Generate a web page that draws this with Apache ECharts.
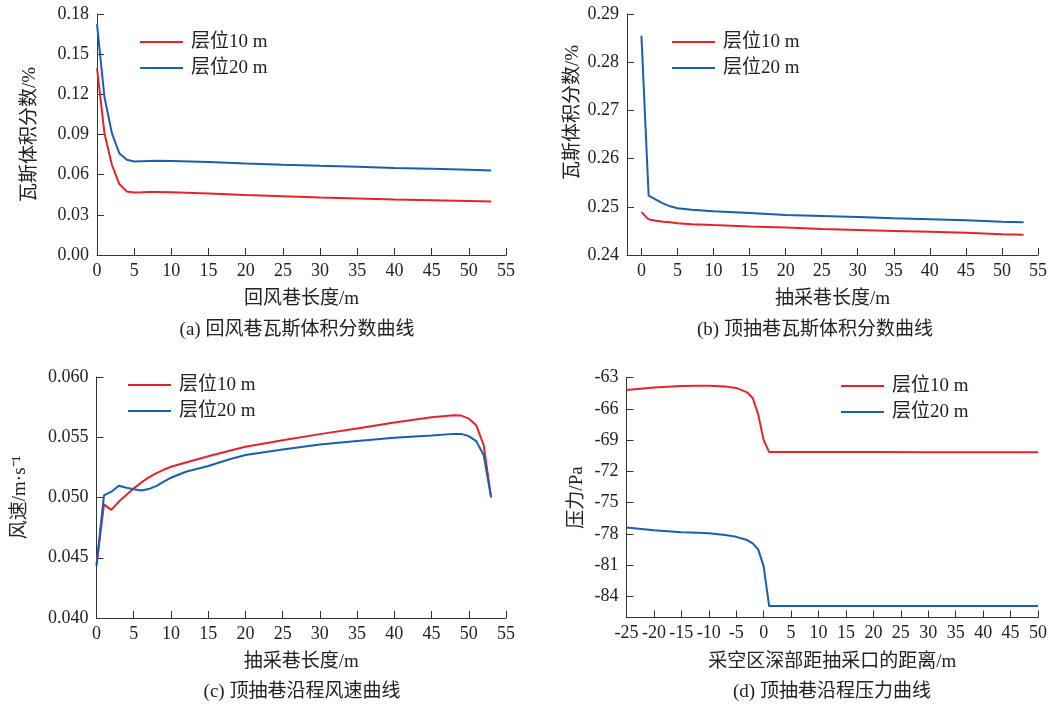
<!DOCTYPE html>
<html>
<head>
<meta charset="utf-8">
<script src="https://cdn.jsdelivr.net/npm/echarts@6/dist/echarts.min.js"></script>
<style>
html,body{margin:0;padding:0;background:#fff;}
#main{width:1057px;height:706px;}
</style>
</head>
<body>
<div id="main"></div>
<script>
// ---------- DATA ----------
const seriesNames = ['层位10 m', '层位20 m'];

// (a) 回风巷瓦斯体积分数
const aX    = [0, 1, 2, 3, 4, 5, 6, 7, 8, 10, 15, 20, 25, 30, 35, 40, 45, 50, 53];
const aRed  = [0.1395, 0.091, 0.0674, 0.053, 0.0475, 0.0467, 0.0468, 0.0470, 0.0471, 0.0469, 0.0460, 0.0448, 0.0438, 0.0429, 0.0422, 0.0415, 0.0409, 0.0403, 0.0400];
const aBlue = [0.1725, 0.118, 0.091, 0.076, 0.0711, 0.0699, 0.0701, 0.0703, 0.0704, 0.0702, 0.0694, 0.0683, 0.0674, 0.0666, 0.0659, 0.0650, 0.0644, 0.0637, 0.0632];

// (b) 顶抽巷瓦斯体积分数
const bX    = [0, 1, 2, 3, 4, 5, 7, 10, 15, 20, 25, 30, 35, 40, 45, 50, 53];
const bRed  = [0.2489, 0.2474, 0.2471, 0.2469, 0.2468, 0.2466, 0.2464, 0.2462, 0.2459, 0.2457, 0.2454, 0.2452, 0.2450, 0.2448, 0.2446, 0.2443, 0.2442];
const bBlue = [0.2855, 0.2523, 0.2515, 0.2507, 0.2501, 0.2497, 0.2494, 0.2491, 0.2487, 0.2483, 0.2481, 0.2479, 0.2476, 0.2474, 0.2472, 0.2469, 0.2468];

// (c) 顶抽巷沿程风速
const cX    = [0, 1, 2, 3, 4, 5, 6, 7, 8, 9, 10, 12, 15, 18, 20, 25, 30, 35, 40, 45, 48, 49, 50, 51, 52, 53];
const cRed  = [0.04436, 0.04943, 0.04897, 0.04966, 0.05021, 0.05076, 0.05123, 0.05167, 0.05200, 0.05230, 0.05255, 0.05291, 0.05343, 0.05390, 0.05421, 0.05476, 0.05526, 0.05572, 0.05622, 0.05666, 0.05683, 0.05680, 0.05655, 0.05600, 0.05434, 0.05001];
const cBlue = [0.04436, 0.05018, 0.05048, 0.05098, 0.05081, 0.05068, 0.05059, 0.05070, 0.05095, 0.05130, 0.05164, 0.05214, 0.05261, 0.05320, 0.05352, 0.05399, 0.05440, 0.05468, 0.05495, 0.05515, 0.05528, 0.05528, 0.05509, 0.05468, 0.05352, 0.05001];

// (d) 顶抽巷沿程压力
const dX    = [-25, -20, -15, -12, -10, -7, -5, -3, -2, -1, 0, 1, 5, 10, 20, 30, 40, 50];
const dRed  = [-64.2, -63.95, -63.82, -63.79, -63.8, -63.87, -64.0, -64.43, -64.96, -66.55, -69.0, -70.15, -70.15, -70.15, -70.15, -70.16, -70.16, -70.17];
const dBlue = [-77.38, -77.63, -77.82, -77.88, -77.92, -78.1, -78.27, -78.58, -78.9, -79.47, -81.1, -84.9, -84.9, -84.9, -84.9, -84.9, -84.9, -84.9];

// tick labels
const xTicks055 = [0, 5, 10, 15, 20, 25, 30, 35, 40, 45, 50, 55];
const dYTicks   = [-84, -81, -78, -75, -72, -69, -66, -63];

// titles
const captions = ['(a) 回风巷瓦斯体积分数曲线', '(b) 顶抽巷瓦斯体积分数曲线', '(c) 顶抽巷沿程风速曲线', '(d) 顶抽巷沿程压力曲线'];
const xNames = ['回风巷长度/m', '抽采巷长度/m', '抽采巷长度/m', '采空区深部距抽采口的距离/m'];
const yNames = ['瓦斯体积分数/%', '瓦斯体积分数/%', '风速/m·s⁻¹', '压力/Pa'];

// ---------- STYLE ----------
const FONT = "'Liberation Serif', 'Noto Sans CJK SC', serif";
const TXT = '#222';
const AX = '#333';
const RED = '#e8212b';
const BLUE = '#1660ad';

function pairs(xs, ys) { return xs.map((x, i) => [x, ys[i]]); }

function xAxisCfg(idx, min, max, interval, custom, name) {
  const cfg = {
    gridIndex: idx, type: 'value', min: min, max: max,
    name: name, nameLocation: 'middle', nameGap: 35,
    nameTextStyle: {fontFamily: FONT, fontSize: 19, color: TXT},
    axisLine: {show: true, onZero: false, lineStyle: {color: AX, width: 1}},
    axisTick: {show: true, inside: true, length: 7, lineStyle: {color: AX}},
    axisLabel: {fontFamily: FONT, fontSize: 18, color: TXT, margin: 7},
    splitLine: {show: false}
  };
  if (custom) {
    cfg.axisTick.customValues = custom;
    cfg.axisLabel.customValues = custom;
  } else {
    cfg.interval = interval;
  }
  return cfg;
}

function yAxisCfg(idx, min, max, interval, custom, name, gap, fmt, shift) {
  const cfg = {
    gridIndex: idx, type: 'value', min: min, max: max,
    name: name, nameLocation: 'middle', nameGap: gap, nameRotate: 90,
    nameTextStyle: {fontFamily: FONT, fontSize: 19, color: TXT, padding: shift ? [0, 0, 0, shift] : 0},
    axisLine: {show: true, onZero: false, lineStyle: {color: AX, width: 1}},
    axisTick: {show: true, inside: true, length: 7, lineStyle: {color: AX}},
    axisLabel: {fontFamily: FONT, fontSize: 18, color: TXT, margin: 8, formatter: fmt},
    splitLine: {show: false}
  };
  if (custom) {
    cfg.axisTick.customValues = custom;
    cfg.axisLabel.customValues = custom;
  } else {
    cfg.interval = interval;
  }
  return cfg;
}

function lineSeries(name, idx, data, color) {
  return {
    name: name, type: 'line', xAxisIndex: idx, yAxisIndex: idx,
    data: data, showSymbol: false, symbol: 'none',
    lineStyle: {color: color, width: 2}, itemStyle: {color: color},
    animation: false
  };
}

function legendCfg(left, top) {
  return {
    data: seriesNames, orient: 'vertical', left: left, top: top, padding: 0,
    icon: 'rect', itemWidth: 43, itemHeight: 2, itemGap: 6,
    textStyle: {fontFamily: FONT, fontSize: 19, color: TXT, lineHeight: 20, padding: [0, 0, 0, 3]},
    selectedMode: false
  };
}

const chart = echarts.init(document.getElementById('main'), null, {renderer: 'canvas'});

const option = {
  backgroundColor: '#fff',
  animation: false,
  grid: [
    {left: 97, top: 14, width: 409, height: 241},
    {left: 627, top: 14, width: 411, height: 241},
    {left: 96.5, top: 377, width: 409.5, height: 241},
    {left: 626.5, top: 377.5, width: 411.5, height: 240}
  ],
  xAxis: [
    xAxisCfg(0, 0, 55, 5, null, xNames[0]),
    xAxisCfg(1, -2, 55, null, xTicks055, xNames[1]),
    xAxisCfg(2, 0, 55, 5, null, xNames[2]),
    xAxisCfg(3, -25, 50, 5, null, xNames[3])
  ],
  yAxis: [
    yAxisCfg(0, 0, 0.18, 0.03, null, yNames[0], 57, v => v.toFixed(2), 0),
    yAxisCfg(1, 0.24, 0.29, 0.01, null, yNames[1], 44, v => v.toFixed(2), 44),
    yAxisCfg(2, 0.04, 0.06, 0.005, null, yNames[2], 67, v => v.toFixed(3), 0),
    yAxisCfg(3, -86, -63, null, dYTicks, yNames[3], 40, v => String(v), 0)
  ],
  legend: [
    legendCfg(140, 32),
    legendCfg(672, 32),
    legendCfg(128, 375),
    legendCfg(841, 376)
  ],
  series: [
    lineSeries(seriesNames[0], 0, pairs(aX, aRed), RED),
    lineSeries(seriesNames[1], 0, pairs(aX, aBlue), BLUE),
    lineSeries(seriesNames[0], 1, pairs(bX, bRed), RED),
    lineSeries(seriesNames[1], 1, pairs(bX, bBlue), BLUE),
    lineSeries(seriesNames[0], 2, pairs(cX, cRed), RED),
    lineSeries(seriesNames[1], 2, pairs(cX, cBlue), BLUE),
    lineSeries(seriesNames[0], 3, pairs(dX, dRed), RED),
    lineSeries(seriesNames[1], 3, pairs(dX, dBlue), BLUE)
  ],
  graphic: [
    {type: 'text', x: 297, y: 330, style: {text: captions[0], font: '19px ' + FONT, fill: TXT, textAlign: 'center', textVerticalAlign: 'middle'}},
    {type: 'text', x: 815, y: 330, style: {text: captions[1], font: '19px ' + FONT, fill: TXT, textAlign: 'center', textVerticalAlign: 'middle'}},
    {type: 'text', x: 302, y: 692, style: {text: captions[2], font: '19px ' + FONT, fill: TXT, textAlign: 'center', textVerticalAlign: 'middle'}},
    {type: 'text', x: 832, y: 692, style: {text: captions[3], font: '19px ' + FONT, fill: TXT, textAlign: 'center', textVerticalAlign: 'middle'}}
  ]
};
chart.setOption(option);
</script>
</body>
</html>
